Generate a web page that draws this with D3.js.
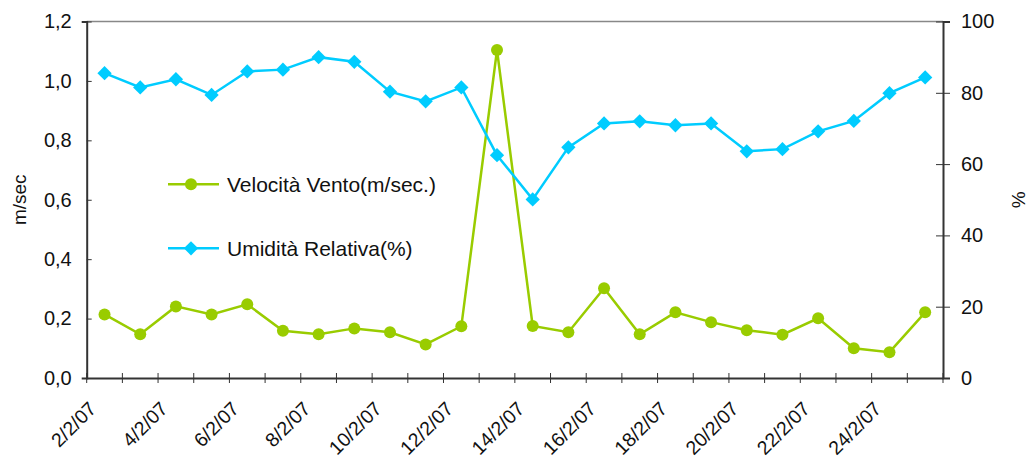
<!DOCTYPE html>
<html>
<head>
<meta charset="utf-8">
<script src="https://cdn.jsdelivr.net/npm/d3@7"></script>
<style>
  body { margin: 0; background: #fff; }
  svg text { font-family: "Liberation Sans", Arial, sans-serif; fill: #111; }
</style>
</head>
<body>
<script>
const days = ["2/2/07","3/2/07","4/2/07","5/2/07","6/2/07","7/2/07","8/2/07","9/2/07",
  "10/2/07","11/2/07","12/2/07","13/2/07","14/2/07","15/2/07","16/2/07","17/2/07",
  "18/2/07","19/2/07","20/2/07","21/2/07","22/2/07","23/2/07","24/2/07","25/2/07"];
const vento = [0.214,0.147,0.241,0.214,0.248,0.159,0.147,0.167,0.154,0.113,0.174,1.104,
  0.175,0.154,0.302,0.147,0.221,0.188,0.161,0.146,0.201,0.100,0.087,0.221];
const umidita = [85.5,81.5,83.8,79.4,86.0,86.5,90.0,88.7,80.3,77.6,81.5,62.5,
  50.1,64.7,71.4,72.0,70.9,71.4,63.6,64.2,69.2,72.1,79.9,84.3];
const leftTicks = [0,0.2,0.4,0.6,0.8,1.0,1.2];
const rightTicks = [0,20,40,60,80,100];

const w = 1030, h = 464;
const plotL = 86.7, plotR = 943, plotT = 21.5, plotB = 378;
const green = "#99cc00", blue = "#00ccff";

const svg = d3.select("body").append("svg")
  .attr("width", w)
  .attr("height", h);

const x = d3.scaleBand().domain(days).range([plotL, plotR]);
const yL = d3.scaleLinear().domain([0, 1.2]).range([plotB, plotT]);
const yR = d3.scaleLinear().domain([0, 100]).range([plotB, plotT]);
const cx = d => x(d) + x.bandwidth() / 2;

// top frame line
svg.append("line")
  .attr("x1", plotL).attr("x2", plotR)
  .attr("y1", plotT).attr("y2", plotT)
  .attr("stroke", "#888").attr("stroke-width", 1.5);

const comma = d3.format(".1f");
const yAxisL = svg.append("g")
  .attr("transform", `translate(${plotL},0)`)
  .call(d3.axisLeft(yL).tickValues(leftTicks).tickSize(5)
    .tickFormat(d => comma(d).replace(".", ",")).tickPadding(10));
yAxisL.selectAll(".tick line").attr("x2", 5);

const yAxisR = svg.append("g")
  .attr("transform", `translate(${plotR},0)`)
  .call(d3.axisRight(yR).tickValues(rightTicks).tickSize(7).tickPadding(11));
yAxisR.selectAll(".tick line").attr("x1", -7);

const xAxis = svg.append("g")
  .attr("transform", `translate(0,${plotB})`)
  .call(d3.axisBottom(x).tickValues([]).tickSizeOuter(0));
// tick marks between categories
xAxis.selectAll(".sep")
  .data(d3.range(days.length + 1))
  .enter().append("line")
  .attr("class", "sep")
  .attr("x1", i => plotL + i * x.step())
  .attr("x2", i => plotL + i * x.step())
  .attr("y1", -5).attr("y2", 5)
  .attr("stroke", "#333");
xAxis.selectAll(".lbl")
  .data(days.filter((d, i) => i % 2 === 0))
  .enter().append("text")
  .attr("class", "lbl")
  .attr("transform", d => `translate(${cx(d) - 7},${410 - plotB}) rotate(-45)`)
  .attr("text-anchor", "end")
  .style("font-size", "19.5px")
  .text(d => d);

svg.selectAll(".domain").attr("stroke", "#333").attr("stroke-width", 2);
svg.selectAll(".tick line").attr("stroke", "#333");
svg.selectAll(".tick text").style("font-size", "20px").style("fill", "#111");

// axis titles
svg.append("text")
  .attr("transform", `translate(26,${(plotT + plotB) / 2}) rotate(-90)`)
  .attr("text-anchor", "middle")
  .style("font-size", "19px")
  .text("m/sec");
svg.append("text")
  .attr("transform", `translate(1025,${(plotT + plotB) / 2}) rotate(-90)`)
  .attr("text-anchor", "middle")
  .style("font-size", "19px")
  .text("%");

// wind series
const lineV = d3.line().x((d, i) => cx(days[i])).y(d => yL(d));
svg.append("path")
  .datum(vento)
  .attr("d", lineV)
  .attr("fill", "none")
  .attr("stroke", green)
  .attr("stroke-width", 2.5);
svg.selectAll(".dotV")
  .data(vento)
  .enter().append("circle")
  .attr("class", "dotV")
  .attr("cx", (d, i) => cx(days[i]))
  .attr("cy", d => yL(d))
  .attr("r", 6)
  .attr("fill", green);

// humidity series
const lineU = d3.line().x((d, i) => cx(days[i])).y(d => yR(d));
svg.append("path")
  .datum(umidita)
  .attr("d", lineU)
  .attr("fill", "none")
  .attr("stroke", blue)
  .attr("stroke-width", 2.5);
const diamond = d3.symbol().type(d3.symbolDiamond2).size(130);
svg.selectAll(".dotU")
  .data(umidita)
  .enter().append("path")
  .attr("class", "dotU")
  .attr("d", diamond)
  .attr("transform", (d, i) => `translate(${cx(days[i])},${yR(d)})`)
  .attr("fill", blue);

// legend
const legendData = [
  { color: green, label: "Velocità Vento(m/sec.)", mark: "circle" },
  { color: blue, label: "Umidità Relativa(%)", mark: "diamond" }
];
const legend = svg.append("g")
  .selectAll("g")
  .data(legendData)
  .enter().append("g")
  .attr("transform", (d, i) => `translate(168,${184.3 + i * 64})`);
legend.append("line")
  .attr("x1", 0).attr("x2", 51)
  .attr("stroke", d => d.color)
  .attr("stroke-width", 2.5);
legend.each(function (d) {
  const g = d3.select(this);
  if (d.mark === "circle") {
    g.append("circle").attr("cx", 23).attr("r", 6).attr("fill", d.color);
  } else {
    g.append("path").attr("d", diamond).attr("transform", "translate(23,0)").attr("fill", d.color);
  }
});
legend.append("text")
  .attr("x", 59)
  .attr("y", 0)
  .attr("dy", "0.36em")
  .style("font-size", "21px")
  .text(d => d.label);
</script>
</body>
</html>
